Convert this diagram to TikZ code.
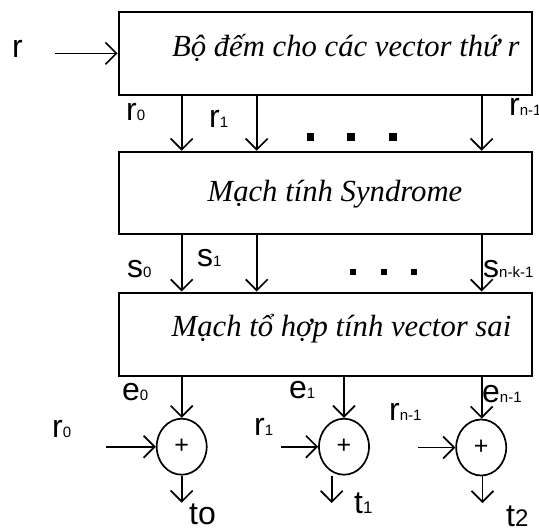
\documentclass[tikz,border=0pt]{standalone}
\usepackage{fontspec}
\setmainfont{Liberation Serif}
\newfontfamily\arialf{Liberation Sans}
\usetikzlibrary{arrows.meta,shapes.geometric}
\newcommand{\lb}[2]{{\arialf\fontsize{32}{32}\selectfont #1}{\arialf\fontsize{15}{15}\selectfont #2}}
\tikzset{
  box/.style={draw,line width=2pt,rectangle,inner sep=0pt},
  boxtext/.style={anchor=base,inner sep=0pt,font=\fontsize{30.7}{30.7}\selectfont\itshape},
  lbl/.style={anchor=base west,inner sep=0pt},
  arr/.style={line width=1.7pt,-{Straight Barb[length=11pt,width=22pt,line width=1.7pt]}},
  xorc/.style={draw,line width=1.7pt,ellipse,minimum width=50pt,minimum height=56pt,inner sep=0pt,font=\arialf\fontsize{25}{25}\selectfont},
  bigdot/.style={fill=black}
}
\begin{document}
\begin{tikzpicture}[x=1pt,y=-1pt]
\useasboundingbox (0,0) rectangle (539,528);
% boxes
\node[box,minimum width=413pt,minimum height=83.3pt] (b1) at (325.1,53.35) {};
\node[box,minimum width=413pt,minimum height=82pt] (b2) at (325.1,192.7) {};
\node[box,minimum width=413pt,minimum height=83pt] (b3) at (325.1,334) {};
\node[boxtext] (t1box) at (345.8,56.7) {Bộ đếm cho các vector thứ r};
\node[boxtext] (t2box) at (335,201.7) {Mạch tính Syndrome};
\node[boxtext] (t3box) at (341.5,336.7) {Mạch tổ hợp tính vector sai};
% column coordinates
\coordinate (x0) at (181.7,0);
\coordinate (x1) at (256.7,0);
\coordinate (x2) at (481.7,0);
% input r
\coordinate (rin) at (55,53.35);
\node[lbl] (lr) at (12,57) {\lb{r}{}};
\draw[arr] (rin) -- (b1.west);
% r arrows
\draw[arr] (b1.south -| x0) -- (b2.north -| x0);
\draw[arr] (b1.south -| x1) -- (b2.north -| x1);
\draw[arr] (b1.south -| x2) -- (b2.north -| x2);
\node[lbl] (lr0) at (126,120) {\lb{r}{0}};
\node[lbl] (lr1) at (209,127) {\lb{r}{1}};
\node[lbl] (lrn) at (509,115) {\lb{r}{n-1}};
\fill (306.9,133.4) rectangle ++(7.2,7.2);
\fill (347.4,133.4) rectangle ++(7.2,7.2);
\fill (389.4,133.4) rectangle ++(7.2,7.2);
% s arrows
\draw[arr] (b2.south -| x0) -- (b3.north -| x0);
\draw[arr] (b2.south -| x1) -- (b3.north -| x1);
\draw[arr] (b2.south -| x2) -- (b3.north -| x2);
\node[lbl] (ls0) at (127,277) {\lb{s}{0}};
\node[lbl] (ls1) at (197,266) {\lb{s}{1}};
\node[lbl] (lsn) at (483,277) {\lb{s}{n-k-1}};
\fill (350.3,268.7) rectangle ++(6,6);
\fill (381,268.7) rectangle ++(6,6);
\fill (411.3,268.7) rectangle ++(6,6);
% adders
\node[xorc] (c0) at (181.7,446.7) {+};
\node[xorc] (c1) at (344,446.7) {+};
\node[xorc] (c2) at (481.2,447.5) {+};
\draw[arr] (b3.south -| c0) -- (c0.north);
\draw[arr] (b3.south -| c1) -- (c1.north);
\draw[arr] (b3.south -| x2) -- (c2.north -| x2);
\node[lbl] (le0) at (122,400) {\lb{e}{0}};
\node[lbl] (le1) at (289,398) {\lb{e}{1}};
\node[lbl] (len) at (482,402) {\lb{e}{n-1}};
\coordinate (ri0) at (106,446.7);
\coordinate (ri1) at (281,446.7);
\coordinate (ri2) at (418,447.5);
\draw[arr] (ri0) -- (c0.west);
\draw[arr] (ri1) -- (c1.west);
\draw[arr] (ri2) -- (c2.west);
\node[lbl] (lbr0) at (52,437) {\lb{r}{0}};
\node[lbl] (lbr1) at (254,435) {\lb{r}{1}};
\node[lbl] (lbrn) at (389,420) {\lb{r}{n-1}};
% outputs
\coordinate (to0) at (181.7,502.7);
\coordinate (to1) at (331.7,503);
\coordinate (to2) at (482.5,503);
\draw[arr] (c0.south) -- (to0);
\draw[arr] (c1.south -| to1) -- (to1);
\draw[arr] (c2.south -| to2) -- (to2);
\node[lbl] (lt0) at (189,524.5) {\arialf\fontsize{32}{32}\selectfont to};
\node[lbl] (lt1) at (354,513) {\arialf\fontsize{32}{32}\selectfont t\fontsize{17}{17}\selectfont 1};
\node[lbl] (lt2) at (506,526.5) {\arialf\fontsize{32}{32}\selectfont t\fontsize{24}{24}\selectfont 2};
\end{tikzpicture}
\end{document}
